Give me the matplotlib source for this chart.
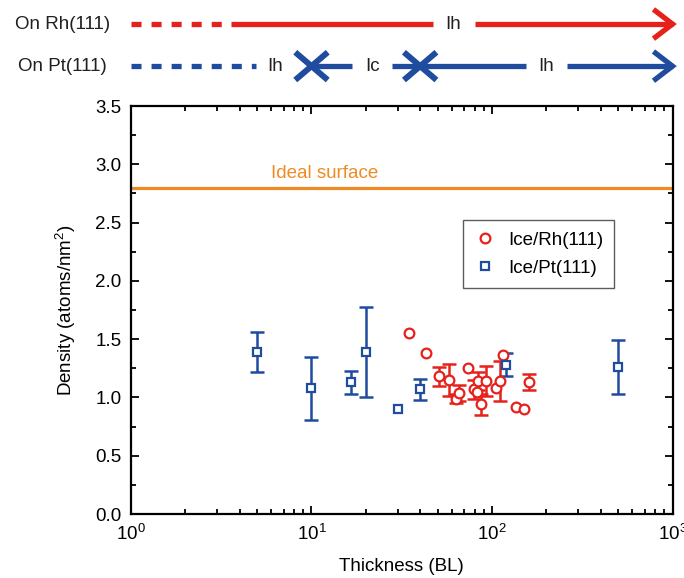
import numpy as np
import matplotlib
matplotlib.use("Agg")
import matplotlib.pyplot as plt
from matplotlib.ticker import AutoMinorLocator

plt.rcParams["font.family"] = ["Liberation Sans", "DejaVu Sans"]
plt.rcParams["mathtext.fontset"] = "custom"
plt.rcParams["mathtext.rm"] = "Liberation Sans"
plt.rcParams["mathtext.it"] = "Liberation Sans:italic"

RED = "#e6211c"
BLUE = "#1f4c9f"
ORANGE = "#f08a24"

# Ice / Pt(111)
pt_x = [5, 10, 16.5, 20, 30, 40, 120, 500]
pt_y = [1.39, 1.08, 1.13, 1.39, 0.90, 1.07, 1.28, 1.26]
pt_err = [0.17, 0.27, 0.10, 0.39, np.nan, 0.09, 0.10, 0.23]

# Ice / Rh(111)
rh_x = [34.5, 43, 51, 58, 63, 66, 74, 79, 83, 84, 87, 93, 105, 111, 115, 135, 150, 161]
rh_y = [1.55, 1.38, 1.18, 1.15, 0.99, 1.04, 1.25, 1.07, 1.05, 1.14, 0.94, 1.14, 1.08, 1.14, 1.36, 0.92, 0.90, 1.13]
rh_err = [np.nan, np.nan, 0.08, 0.14, 0.04, 0.07, np.nan, 0.08, np.nan, 0.08, 0.09, 0.13,
          np.nan, 0.17, np.nan, np.nan, np.nan, 0.07]

ideal_density = 2.8

# phase bars at the top (thickness positions)
rh_dashed = (1.0, 3.3)
rh_solid = [(3.6, 47), (80, 1000)]
rh_texts = [(61, "Ih")]
pt_dashed = (1.0, 4.9)
pt_solid = [(10, 16.8), (28, 40), (40, 155), (259, 1000)]
pt_cross = [10, 40]
pt_texts = [(6.3, "Ih"), (21.7, "Ic"), (200, "Ih")]

fig = plt.figure(figsize=(6.84, 5.78), dpi=100)

# ---- main axes
ax = fig.add_axes([0.1915, 0.1107, 0.7917, 0.7059])
ax.set_xscale("log")
ax.set_xlim(1, 1000)
ax.set_ylim(0, 3.5)

ax.axhline(ideal_density, color=ORANGE, lw=2.3, zorder=1)
ax.text(6.0, ideal_density + 0.05, "Ideal surface", color=ORANGE, fontsize=13.5,
        ha="left", va="bottom")

def draw_set(x, y, err, color, marker, ms, label):
    x = np.array(x); y = np.array(y); err = np.array(err)
    m = ~np.isnan(err)
    ax.errorbar(x[m], y[m], yerr=err[m], fmt="none", ecolor=color, elinewidth=1.8,
                capsize=5, capthick=1.8, zorder=2)
    ax.plot(x, y, linestyle="none", marker=marker, ms=ms, mfc="white", mec=color,
            mew=1.6, label=label, zorder=3)

draw_set(rh_x, rh_y, rh_err, RED, "o", 7, "Ice/Rh(111)")
draw_set(pt_x, pt_y, pt_err, BLUE, "s", 5.5, "Ice/Pt(111)")

ax.yaxis.set_major_locator(plt.MultipleLocator(0.5))
ax.yaxis.set_minor_locator(AutoMinorLocator(2))
ax.tick_params(which="both", direction="in", top=True, right=True, width=1.3,
               labelsize=13.5)
ax.tick_params(which="major", length=6, pad=7)
ax.tick_params(which="minor", length=3.5)
for s in ax.spines.values():
    s.set_linewidth(1.6)

ax.set_xlabel("Thickness (BL)", fontsize=13.5, labelpad=10)
ax.set_ylabel("Density (atoms/nm$^2$)", fontsize=13.5, labelpad=12)

leg = ax.legend(loc="upper left", bbox_to_anchor=(0.613, 0.72), borderaxespad=0,
                fontsize=13.5, frameon=True, fancybox=False, edgecolor="#333333",
                handletextpad=0.6, borderpad=0.6, labelspacing=0.6, handlelength=1.2)
leg.get_frame().set_linewidth(1.0)

# ---- phase bars above the plot
top = fig.add_axes([0.1915, 0.844, 0.7917, 0.156])
top.set_xscale("log")
top.set_xlim(1, 1000)
top.set_ylim(-0.571, 1.571)
top.axis("off")

LW = 3.8
head_dx = 10 ** 0.094
head_dy = 0.31

def bar_row(y, color, dashed, solids, texts, crosses, label):
    top.plot(dashed, [y, y], color=color, lw=LW, ls=(0, (1.9, 1.9)), clip_on=False,
             solid_capstyle="butt", dash_capstyle="butt")
    for a, b in solids:
        top.plot([a, b], [y, y], color=color, lw=LW, clip_on=False, solid_capstyle="butt")
    tip = solids[-1][1]
    top.plot([tip / head_dx, tip, tip / head_dx], [y + head_dy, y, y - head_dy],
             color=color, lw=LW, clip_on=False, solid_joinstyle="miter")
    for c in crosses:
        dx = 10 ** 0.09
        top.plot([c / dx, c * dx], [y + 0.33, y - 0.33], color=color, lw=LW + 0.5,
                 clip_on=False, solid_capstyle="butt")
        top.plot([c / dx, c * dx], [y - 0.33, y + 0.33], color=color, lw=LW + 0.5,
                 clip_on=False, solid_capstyle="butt")
    for xt, t in texts:
        top.text(xt, y, t, ha="center", va="center", fontsize=13.5, color="#231f20")
    top.text(-0.127, y, label, transform=top.get_yaxis_transform(), ha="center",
             va="center", fontsize=13.5, color="#231f20")

bar_row(1, RED, rh_dashed, rh_solid, rh_texts, [], "On Rh(111)")
bar_row(0, BLUE, pt_dashed, pt_solid, pt_texts, pt_cross, "On Pt(111)")

fig.savefig("out.png", dpi=100)
